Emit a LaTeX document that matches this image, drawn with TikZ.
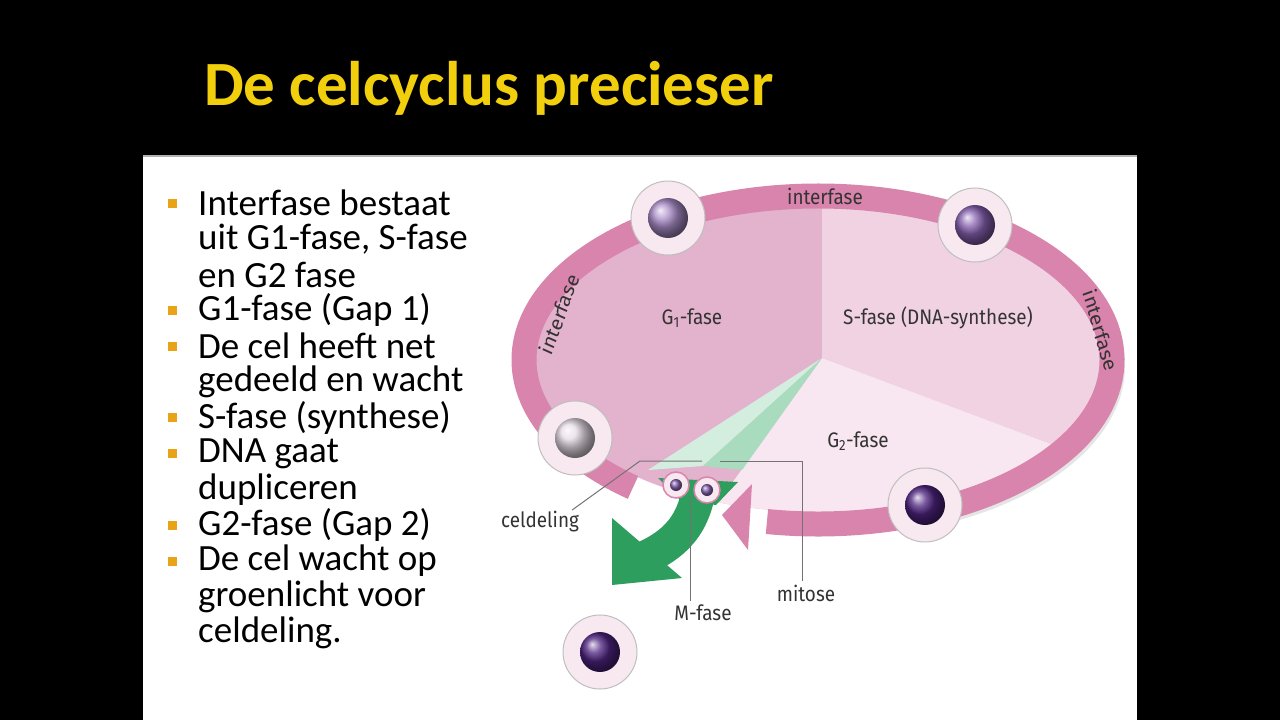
\documentclass[tikz,border=0pt]{standalone}
\usepackage{fontspec}
\setmainfont{Carlito}
\newfontfamily\lab{Fira Sans}
\begin{document}
\begin{tikzpicture}[x=1pt,y=-1pt]
\definecolor{ttl}{HTML}{F2CF0C}
\definecolor{bul}{HTML}{E8A317}
\definecolor{ring}{HTML}{D984AC}
\definecolor{gone}{HTML}{E3B2CD}
\definecolor{sfase}{HTML}{F1D2E3}
\definecolor{gtwo}{HTML}{F8E7F0}
\definecolor{gdark}{HTML}{2E9E5E}
\definecolor{glite}{HTML}{D3EEDF}
\definecolor{gmid}{HTML}{A9DBBF}
\definecolor{celc}{HTML}{F8E8F0}
\definecolor{nA}{HTML}{A98CC8}
\definecolor{nB}{HTML}{8660B0}
\definecolor{nC}{HTML}{E6DCE6}
\definecolor{nD}{HTML}{4E2380}
\tikzset{
 cell/.style={circle,minimum size=74,fill=celc,draw=black!25,line width=1pt,inner sep=0},
 smallcell/.style={circle,minimum size=26,fill=celc,draw=ring,line width=1.5pt,inner sep=0},
 nuc/.style={circle,minimum size=40,inner sep=0,shading=ball},
 lbl/.style={font=\fontsize{21}{23}\selectfont\lab,text=black!80,xscale=0.9},
 leader/.style={draw=black!55,line width=1pt},
 btxt/.style={anchor=west,font=\fontsize{37}{38}\selectfont,text=black,inner sep=0},
 bsq/.style={fill=bul,minimum size=9,inner sep=0}
}
\fill[black] (0,0) rectangle (1280,720);
\useasboundingbox (0,0) rectangle (1280,720);
\node[anchor=west,text=ttl,font=\fontsize{63}{68}\selectfont\bfseries,inner sep=0] (title) at (204,88) {De celcyclus precieser};
\fill[white] (143,155) rectangle (1137,720);
\draw[black!30,line width=2pt] (143,156) -- (1137,156);
% bullets
\foreach \i/\t/\b in {0/Interfase bestaat/1,1/uit G1-fase{,} S-fase/0,2/en G2 fase/0,3/G1-fase (Gap 1)/1,4/De cel heeft net/1,5/gedeeld en wacht/0,6/S-fase (synthese)/1,7/DNA gaat/1,8/dupliceren/0,9/G2-fase (Gap 2)/1,10/De cel wacht op/1,11/groenlicht voor/0,12/celdeling./0}{
  \node[btxt] (t\i) at (198,{203+35.8*\i}) {\t};
  \ifnum\b=1 \node[bsq] (b\i) at (172,{203+35.8*\i}) {};\fi
}
% pie
\coordinate (C) at (822,358);
\begin{scope}
\clip (818,360) ellipse[x radius=283,y radius=152];
\fill[gone] (518,150) rectangle (1120,580);
\fill[sfase] (C) -- (822,100) -- (1200,100) -- (1200,500) -- cycle;
\fill[gtwo] (C) -- (1200,500) -- (1200,700) -- (576,700) -- cycle;
\end{scope}
\fill[glite] (C) -- (648,470) -- (703,466) -- cycle;
\fill[gmid] (C) -- (703,466) -- (742,470) -- cycle;
% shadow
\draw[black!10,line width=8pt] (818+8,360+6) ++(-5:295 and 168) arc[start angle=-5,end angle=75,x radius=295,y radius=168];
% ring
\draw[ring,line width=25pt] (818,360) ++(-231:294 and 164) arc[start angle=-231,end angle=100,x radius=294,y radius=164];
\fill[ring] (722,515) -- (752,484) -- (748,550) -- cycle;
% green arrow
\draw[gdark,line width=34pt] (700,482) .. controls (695,525) and (675,545) .. (640,560);
\fill[gdark] (612,585) -- (612,518) -- (682,578) -- cycle;
\fill[gdark] (658,478) -- (738,482) -- (716,505) -- (680,500) -- cycle;
% cells
\foreach \n/\x/\y/\c in {c1/668/218/nA,c2/975/225/nB,c3/575/438/nC,c4/925/505/nD,c5/600/652/nD}{
  \node[cell] (\n) at (\x,\y) {};
  \node[nuc,ball color=\c] (\n n) at (\x,\y) {};
}
\node[smallcell] (s1) at (676,485) {};
\node[smallcell] (s2) at (707,490) {};
\node[circle,minimum size=12,inner sep=0,shading=ball,ball color=nB] (s1n) at (s1) {};
\node[circle,minimum size=12,inner sep=0,shading=ball,ball color=nB] (s2n) at (s2) {};
% labels
\node[lbl] (li1) at (825,196) {interfase};
\node[lbl,rotate=68] (li2) at (559,314) {interfase};
\node[lbl,rotate=-72] (li3) at (1101,330) {interfase};
\node[lbl] (lg1) at (692,318) {G\textsubscript{1}-fase};
\node[lbl] (ls) at (938,318) {S-fase (DNA-synthese)};
\node[lbl] (lg2) at (858,441) {G\textsubscript{2}-fase};
\node[lbl] (lcel) at (540,522) {celdeling};
\node[lbl] (lm) at (703,613) {M-fase};
\node[lbl] (lmit) at (806,593) {mitose};
\coordinate (k1) at (640,461);
\coordinate (k2) at (702,461);
\coordinate (k3) at (720,461);
\coordinate (k4) at (802,461);
\coordinate (k5) at (690,496);
\draw[leader] (lcel.north east) ++(-10,2) -- (k1) -- (k2);
\draw[leader] (k3) -- (k4) -- (k4 |- lmit.north);
\draw[leader] (k5) -- (k5 |- lm.north);
\end{tikzpicture}
\end{document}
